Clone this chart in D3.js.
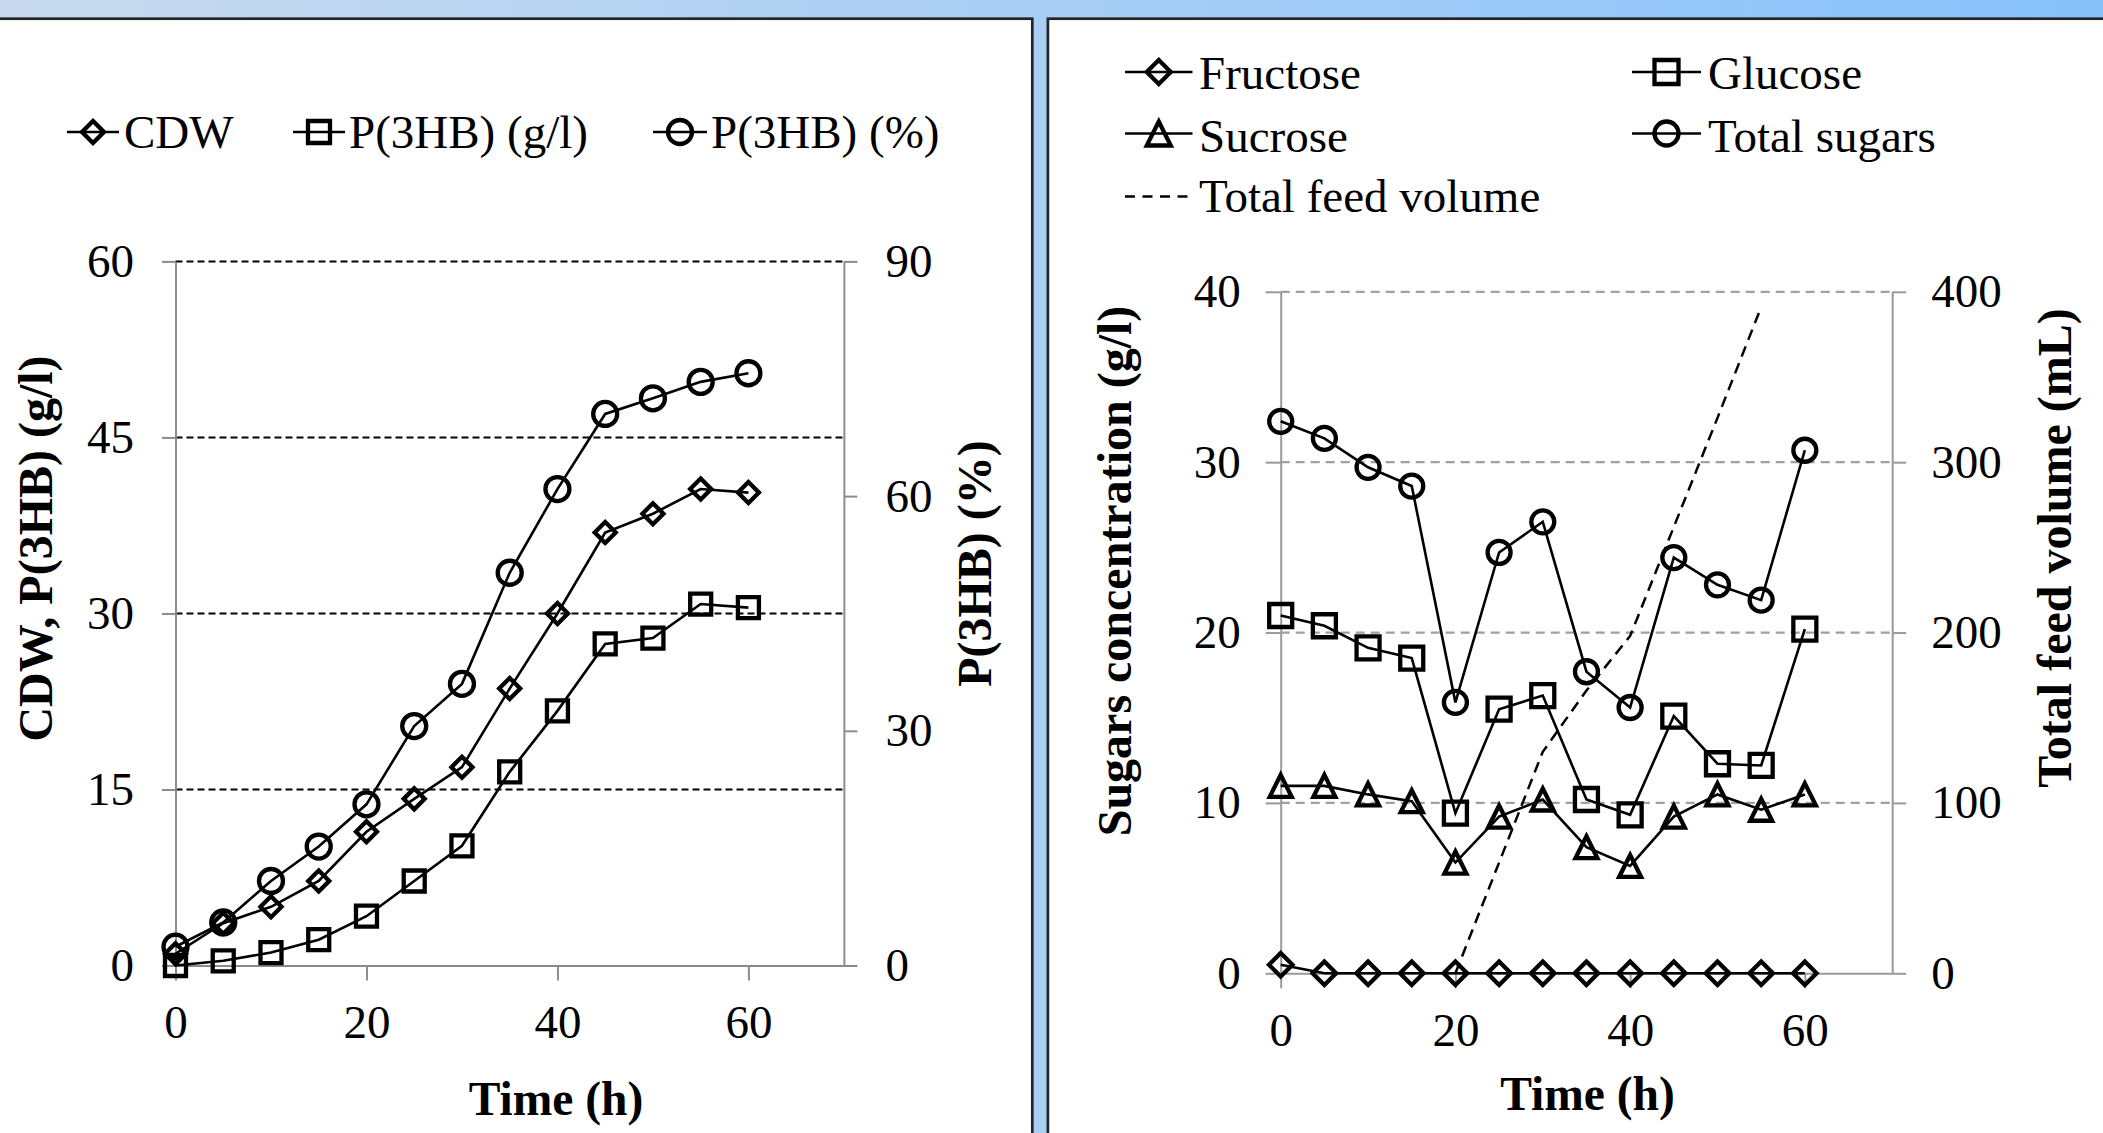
<!DOCTYPE html>
<html>
<head>
<meta charset="utf-8">
<script src="https://cdn.jsdelivr.net/npm/d3@7"></script>
<style>
  html, body { margin: 0; padding: 0; background: #fff; }
  svg { display: block; }
</style>
</head>
<body>
<svg id="chart" width="2103" height="1133"></svg>
<script>
// ---------------- DATA ----------------
const time = [0, 5, 10, 15, 20, 25, 30, 35, 40, 45, 50, 55, 60];

// Left panel
const cdw      = [1.0, 3.6, 5.0, 7.2, 11.4, 14.2, 16.9, 23.6, 30.0, 36.9, 38.5, 40.6, 40.3];
const p3hbGL   = [0.0, 0.4, 1.1, 2.2, 4.2, 7.2, 10.2, 16.5, 21.7, 27.4, 27.9, 30.8, 30.5];
const p3hbPct  = [2.4, 5.5, 10.8, 15.2, 20.6, 30.6, 36.0, 50.2, 60.9, 70.5, 72.5, 74.6, 75.7];

// Right panel
const fructose    = [0.5, 0, 0, 0, 0, 0, 0, 0, 0, 0, 0, 0, 0];
const glucose     = [21.0, 20.4, 19.1, 18.5, 9.4, 15.5, 16.3, 10.2, 9.3, 15.1, 12.3, 12.2, 20.2];
const sucrose     = [11.0, 11.0, 10.5, 10.1, 6.5, 9.2, 10.2, 7.4, 6.3, 9.2, 10.5, 9.6, 10.5];
const totalSugars = [32.4, 31.4, 29.7, 28.6, 15.9, 24.7, 26.5, 17.7, 15.6, 24.4, 22.8, 21.9, 30.7];
const feedTime    = [20, 25, 30, 35, 40, 45, 50, 55];
const feedVolume  = [0, 65, 130, 166, 198, 262, 326, 391];

// Tick labels
const xTicks        = [0, 20, 40, 60];
const leftYTicks    = [0, 15, 30, 45, 60];
const leftY2Ticks   = [0, 30, 60, 90];
const rightYTicks   = [0, 10, 20, 30, 40];
const rightY2Ticks  = [0, 100, 200, 300, 400];

// ---------------- DRAW ----------------
const svg = d3.select("#chart");
const FONT = "'Liberation Serif', 'Times New Roman', serif";

// background gradient
const defs = svg.append("defs");
const grad = defs.append("linearGradient").attr("id", "bg").attr("x1", "0").attr("x2", "1").attr("y1", "0").attr("y2", "0");
grad.append("stop").attr("offset", "0").attr("stop-color", "#c9daee");
grad.append("stop").attr("offset", "1").attr("stop-color", "#88c2fb");
svg.append("rect").attr("x", 0).attr("y", 0).attr("width", 2103).attr("height", 1133).attr("fill", "url(#bg)");

// panels
svg.append("rect").attr("x", -10).attr("y", 18.7).attr("width", 1042.3).attr("height", 1200)
  .attr("fill", "#fff").attr("stroke", "#242424").attr("stroke-width", 2.7);
svg.append("rect").attr("x", 1047.9).attr("y", 18.7).attr("width", 1100).attr("height", 1200)
  .attr("fill", "#fff").attr("stroke", "#242424").attr("stroke-width", 2.7);

function markerPath(type, s) {
  const h = s / 2;
  switch (type) {
    case "diamond":  return `M0,${-h}L${h},0L0,${h}L${-h},0Z`;
    case "square":   return `M${-h},${-h}H${h}V${h}H${-h}Z`;
    case "triangle": return `M0,${-h}L${h},${h}L${-h},${h}Z`;
    case "circle":   return `M${h},0A${h},${h} 0 1,1 ${-h},0A${h},${h} 0 1,1 ${h},0Z`;
  }
}

function styleAxis(g, color) {
  g.selectAll("path.domain").attr("stroke", color).attr("stroke-width", 2);
  g.selectAll(".tick line").attr("stroke", color).attr("stroke-width", 2);
  g.selectAll(".tick text").attr("font-family", FONT).attr("font-size", 47).attr("fill", "#000");
  g.attr("font-family", FONT).attr("font-size", 47);
}

function rotTitle(x, y, label) {
  svg.append("text")
    .attr("font-family", FONT).attr("font-weight", "bold").attr("font-size", 48)
    .attr("text-anchor", "middle")
    .attr("transform", `translate(${x},${y}) rotate(-90)`)
    .text(label);
}

function drawSeries(xs, ys, xScale, yScale, shape, size) {
  const pts = xs.map((t, i) => [xScale(t), yScale(ys[i])]);
  svg.append("path").attr("d", d3.line()(pts))
    .attr("fill", "none").attr("stroke", "#000").attr("stroke-width", 2.6);
  svg.append("g").selectAll("path").data(pts).join("path")
    .attr("transform", d => `translate(${d[0]},${d[1]})`)
    .attr("d", markerPath(shape, size))
    .attr("fill", "none").attr("stroke", "#000").attr("stroke-width", 4.3)
    .attr("stroke-linejoin", "miter");
}

// ============ LEFT PANEL ============
const xL  = d3.scaleLinear().domain([0, 70]).range([175.5, 843.9]);
const yL  = d3.scaleLinear().domain([0, 60]).range([965.5, 261.4]);
const yL2 = d3.scaleLinear().domain([0, 90]).range([965.5, 261.4]);

// gridlines
svg.append("g").selectAll("line").data(leftYTicks.filter(d => d > 0)).join("line")
  .attr("x1", xL(0)).attr("x2", xL(70)).attr("y1", d => yL(d)).attr("y2", d => yL(d))
  .attr("stroke", "#000").attr("stroke-width", 2).attr("stroke-dasharray", "7,4");

const gLy = svg.append("g").attr("transform", `translate(${xL(0)},0)`)
  .call(d3.axisLeft(yL).tickValues(leftYTicks).tickSize(13.5).tickSizeOuter(0).tickPadding(28));
styleAxis(gLy, "#8c8c8c");
const gLy2 = svg.append("g").attr("transform", `translate(${xL(70)},0)`)
  .call(d3.axisRight(yL2).tickValues(leftY2Ticks).tickSize(13.5).tickSizeOuter(0).tickPadding(28));
styleAxis(gLy2, "#8c8c8c");
const gLx = svg.append("g").attr("transform", `translate(0,${yL(0)})`)
  .call(d3.axisBottom(xL).tickValues(xTicks).tickSize(15).tickSizeOuter(0).tickPadding(24));
styleAxis(gLx, "#8c8c8c");

drawSeries(time, p3hbGL, xL, yL, "square", 21);
drawSeries(time, cdw, xL, yL, "diamond", 21);
drawSeries(time, p3hbPct, xL, yL2, "circle", 24);

// titles
svg.append("text").attr("x", 556).attr("y", 1115).attr("text-anchor", "middle")
  .attr("font-family", FONT).attr("font-weight", "bold").attr("font-size", 47.5).text("Time (h)");
rotTitle(52, 548.5, "CDW, P(3HB) (g/l)");
rotTitle(991, 563.5, "P(3HB) (%)");

// legend (left)
const legL = [
  { label: "CDW", shape: "diamond", x0: 67, x1: 119, tx: 124 },
  { label: "P(3HB) (g/l)", shape: "square", x0: 293, x1: 345, tx: 349 },
  { label: "P(3HB) (%)", shape: "circle", x0: 653, x1: 707, tx: 711 }
];
legL.forEach(d => {
  const cy = 132;
  svg.append("line").attr("x1", d.x0).attr("x2", d.x1).attr("y1", cy).attr("y2", cy)
    .attr("stroke", "#000").attr("stroke-width", 2.6);
  svg.append("path").attr("transform", `translate(${(d.x0 + d.x1) / 2},${cy})`)
    .attr("d", markerPath(d.shape, d.shape === "circle" ? 24 : 22))
    .attr("fill", "none").attr("stroke", "#000").attr("stroke-width", 4.3);
  svg.append("text").attr("x", d.tx).attr("y", 148).attr("font-family", FONT).attr("font-size", 47).text(d.label);
});

// ============ RIGHT PANEL ============
const xR  = d3.scaleLinear().domain([0, 70]).range([1280.7, 1892.2]);
const yR  = d3.scaleLinear().domain([0, 40]).range([973.3, 291.8]);
const yR2 = d3.scaleLinear().domain([0, 400]).range([973.3, 291.8]);

svg.append("g").selectAll("line").data(rightYTicks.filter(d => d > 0)).join("line")
  .attr("x1", xR(0)).attr("x2", xR(70)).attr("y1", d => yR(d)).attr("y2", d => yR(d))
  .attr("stroke", "#a0a0a0").attr("stroke-width", 2.2).attr("stroke-dasharray", "9,6");

const gRy = svg.append("g").attr("transform", `translate(${xR(0)},0)`)
  .call(d3.axisLeft(yR).tickValues(rightYTicks).tickSize(15).tickSizeOuter(0).tickPadding(25));
styleAxis(gRy, "#9a9a9a");
const gRy2 = svg.append("g").attr("transform", `translate(${xR(70)},0)`)
  .call(d3.axisRight(yR2).tickValues(rightY2Ticks).tickSize(14).tickSizeOuter(0).tickPadding(25));
styleAxis(gRy2, "#9a9a9a");
const gRx = svg.append("g").attr("transform", `translate(0,${yR(0)})`)
  .call(d3.axisBottom(xR).tickValues(xTicks).tickSize(15).tickSizeOuter(0).tickPadding(24));
styleAxis(gRx, "#9a9a9a");

// feed volume dashed line
svg.append("path")
  .attr("d", d3.line()(feedTime.map((t, i) => [xR(t), yR2(feedVolume[i])])))
  .attr("fill", "none").attr("stroke", "#000").attr("stroke-width", 2.5).attr("stroke-dasharray", "11,7");

drawSeries(time, sucrose, xR, yR, "triangle", 22);
drawSeries(time, glucose, xR, yR, "square", 23);
drawSeries(time, totalSugars, xR, yR, "circle", 23);
drawSeries(time, fructose, xR, yR, "diamond", 23.5);

svg.append("text").attr("x", 1587.5).attr("y", 1110).attr("text-anchor", "middle")
  .attr("font-family", FONT).attr("font-weight", "bold").attr("font-size", 47.5).text("Time (h)");
rotTitle(1131, 571, "Sugars concentration (g/l)");
rotTitle(2071, 548, "Total feed volume (mL)");

// legend (right)
const legR = [
  { label: "Fructose", shape: "diamond", x0: 1125, x1: 1192.5, tx: 1199, cy: 72, by: 89 },
  { label: "Glucose", shape: "square", x0: 1632, x1: 1701, tx: 1708, cy: 72, by: 89 },
  { label: "Sucrose", shape: "triangle", x0: 1125, x1: 1192.5, tx: 1199, cy: 133.5, by: 151.5 },
  { label: "Total sugars", shape: "circle", x0: 1632, x1: 1701, tx: 1708, cy: 133.5, by: 151.5 },
  { label: "Total feed volume", shape: null, x0: 1125, x1: 1190, tx: 1199, cy: 196.5, by: 211.5 }
];
legR.forEach(d => {
  const ln = svg.append("line").attr("x1", d.x0).attr("x2", d.x1).attr("y1", d.cy).attr("y2", d.cy)
    .attr("stroke", "#000").attr("stroke-width", 2.6);
  if (d.shape) {
    svg.append("path").attr("transform", `translate(${(d.x0 + d.x1) / 2},${d.cy})`)
      .attr("d", markerPath(d.shape, 24))
      .attr("fill", "none").attr("stroke", "#000").attr("stroke-width", 4.3);
  } else {
    ln.attr("stroke-dasharray", "10,7.5");
  }
  svg.append("text").attr("x", d.tx).attr("y", d.by).attr("font-family", FONT).attr("font-size", 47).text(d.label);
});
</script>
</body>
</html>
